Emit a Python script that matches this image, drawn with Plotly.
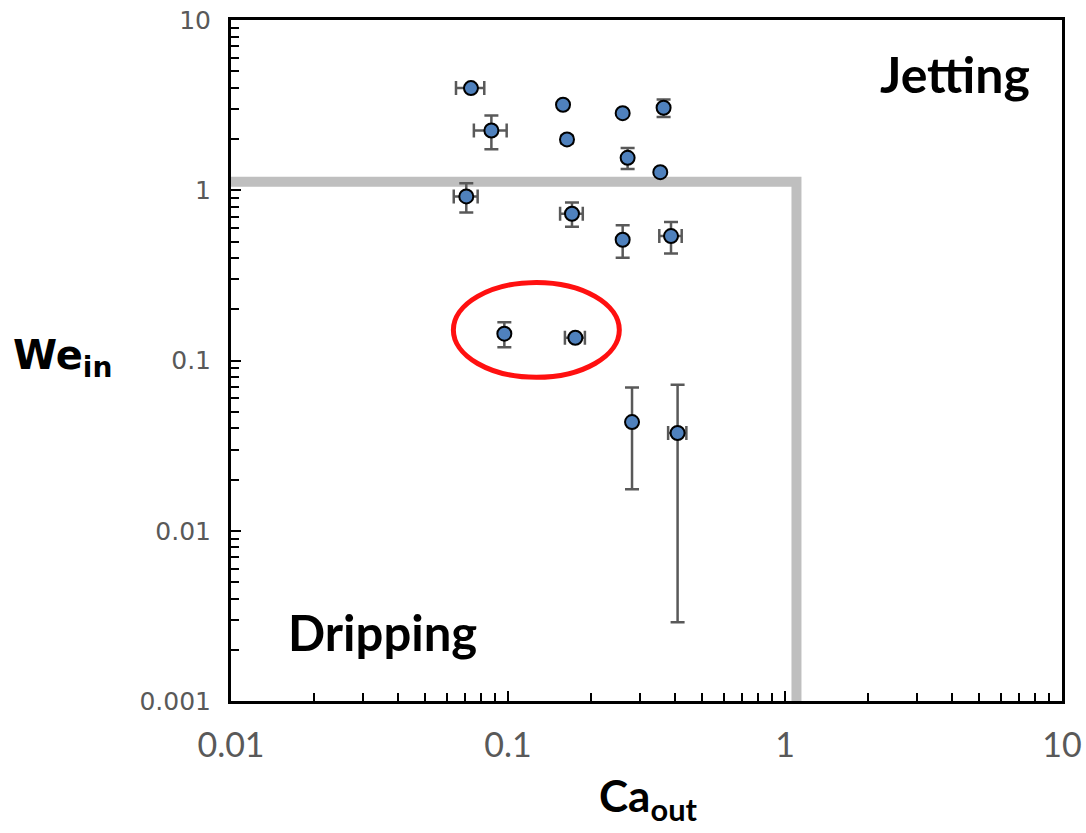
import plotly.graph_objects as go

# Measured points: outer capillary number vs inner Weber number
ca_out = [0.0735, 0.0871, 0.158, 0.1633, 0.2594, 0.3645, 0.2703, 0.3546,
          0.0707, 0.1702, 0.2594, 0.3877, 0.0970, 0.175, 0.2804, 0.4095]
we_in = [3.98, 2.244, 3.178, 1.988, 2.836, 3.051, 1.551, 1.277,
         0.920, 0.728, 0.512, 0.538, 0.1437, 0.136, 0.0435, 0.0375]
ca_err = [0.0086, 0.0118, 0.0, 0.0, 0.0, 0.0, 0.0, 0.0,
          0.007, 0.016, 0.0, 0.036, 0.0, 0.0145, 0.0, 0.031]
we_err = [0.15, 0.5, 0.0, 0.1, 0.0, 0.36, 0.22, 0.0,
          0.18, 0.118, 0.11, 0.113, 0.024, 0.0, 0.026, 0.0346]

# Dripping / jetting regime boundary
boundary_ca = [0.01, 1.1, 1.1]
boundary_we = [1.12, 1.12, 0.001]

# Highlighted pair of points (ellipse bounds in data units)
ellipse_ca = [0.0635, 0.2523]
ellipse_we = [0.0796, 0.2874]

x_tickvals = [0.01, 0.1, 1, 10]
x_ticktext = ["0.01", "0.1", "1", "10"]
y_tickvals = [0.001, 0.01, 0.1, 1, 10]
y_ticktext = ["0.001", "0.01", "0.1", "1", "10"]

W, H = 1086, 833
ML, MR, MT, MB = 231, 24, 20, 132

fig = go.Figure()

fig.add_trace(go.Scatter(
    x=boundary_ca, y=boundary_we, mode="lines",
    line=dict(color="#bfbfbf", width=10),
    hoverinfo="skip", showlegend=False,
))

fig.add_trace(go.Scatter(
    x=ca_out, y=we_in, mode="markers",
    marker=dict(size=14, color="#4f81bd", line=dict(color="black", width=2)),
    error_x=dict(type="data", array=ca_err, color="#595959", thickness=2.5, width=7),
    error_y=dict(type="data", array=we_err, color="#595959", thickness=2.5, width=7),
    showlegend=False,
))

fig.add_shape(
    type="circle", xref="x", yref="y",
    x0=ellipse_ca[0], x1=ellipse_ca[1], y0=ellipse_we[0], y1=ellipse_we[1],
    line=dict(color="#ff1010", width=5),
)

axis_common = dict(
    showline=True, linecolor="black", linewidth=3, mirror=True,
    showgrid=False, zeroline=False, automargin=False,
    ticks="inside", ticklen=10, tickwidth=2, tickcolor="black",
    minor=dict(ticks="inside", ticklen=8, tickwidth=2, tickcolor="black",
               dtick="D1", showgrid=False),
)

fig.update_xaxes(
    type="log", range=[-2, 1],
    tickvals=x_tickvals, ticktext=x_ticktext,
    tickfont=dict(family="Lato", size=34, color="#595959"),
    ticklabelstandoff=12,
    **axis_common,
)
fig.update_yaxes(
    type="log", range=[-3, 1],
    tickvals=y_tickvals, ticktext=y_ticktext,
    tickfont=dict(family="DejaVu Sans", size=25, color="#595959"),
    ticklabelstandoff=12,
    **axis_common,
)

# Axis titles and regime labels, positioned in page pixels
annots = [
    dict(text="<b>We<sub>in</sub></b>", px=62, py=358, family="DejaVu Sans", size=40),
    dict(text="<b>Ca<sub>out</sub></b>", px=648, py=798, family="Lato", size=44),
    dict(text="<b>Jetting</b>", px=955, py=74, family="Lato", size=50),
    dict(text="<b>Dripping</b>", px=382, py=632, family="Lato", size=49),
]
dom_w, dom_h = W - ML - MR, H - MT - MB
for a in annots:
    fig.add_annotation(
        x=(a["px"] - ML) / dom_w, y=1 - (a["py"] - MT) / dom_h,
        xref="paper", yref="paper",
        xanchor="center", yanchor="middle", text=a["text"], showarrow=False,
        font=dict(family=a["family"], size=a["size"], color="black"),
    )

fig.update_layout(
    width=W, height=H,
    margin=dict(l=ML, r=MR, t=MT, b=MB, autoexpand=False),
    paper_bgcolor="white", plot_bgcolor="white",
)

fig.write_html("out.html")
